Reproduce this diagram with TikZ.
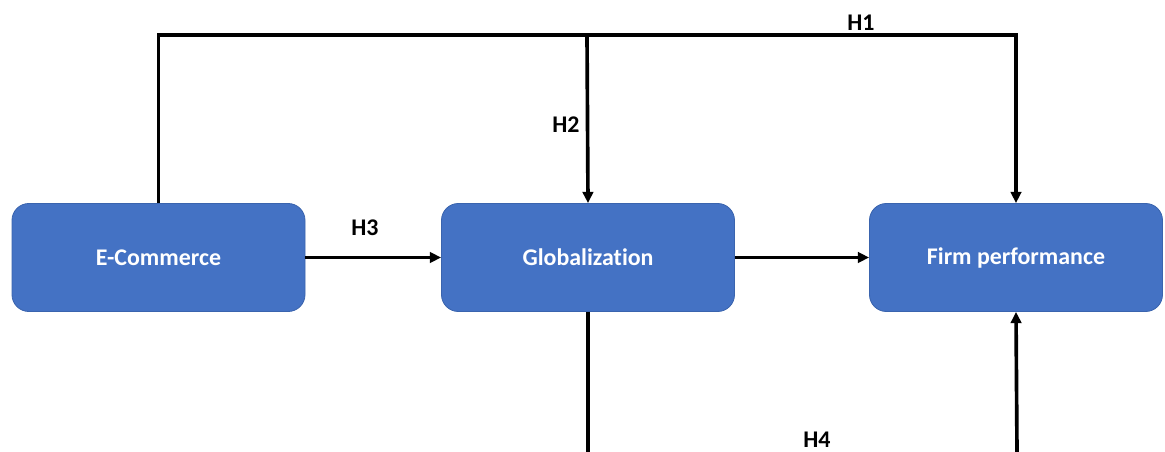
\documentclass[tikz,border=0pt]{standalone}
\usepackage{fontspec}
\setmainfont{Carlito}[RawFeature={-liga}]
\usetikzlibrary{arrows.meta}
\definecolor{boxblue}{HTML}{4472C4}
\definecolor{boxedge}{HTML}{3A64AE}
\begin{document}
\begin{tikzpicture}[x=0.025cm, y=-0.025cm,
  block/.style={draw=boxedge, line width=0.6pt, fill=boxblue, rounded corners=12pt,
    minimum width=293*0.025cm, minimum height=108*0.025cm, inner sep=0pt,
    text=white, font=\fontsize{17}{20}\selectfont\bfseries},
  hyp/.style={font=\fontsize{17}{20}\selectfont\bfseries, inner sep=0pt},
  link/.style={line width=2.6pt},
  >={Triangle[length=8pt, width=7.5pt]}]

\useasboundingbox (0,0) rectangle (1165,452);

\node[block] (ecom) at (158.5,257.5) {E-Commerce};
\node[block] (glob) at (588,257.5) {Globalization};
\node[block] (firm) at (1016,257.5) {Firm performance};

\coordinate (top) at (587,35);
\coordinate (globdown) at (588,452);
\coordinate (firmup) at (1017,452);

\node[hyp] (h1) at (861,23) {H1};
\node[hyp] (h2) at (566,125) {H2};
\node[hyp] (h3) at (365,228) {H3};
\node[hyp] (h4) at (817,440) {H4};

\draw[link,->] (ecom.north) |- (top) -| (firm.north);
\draw[link,->] (top) -- (glob.north);
\draw[link,->] (ecom.east) -- (glob.west);
\draw[link,->] (glob.east) -- (firm.west);
\draw[link] (glob.south) -- (globdown);
\draw[link,->] (firmup) -- (firm.south);
\end{tikzpicture}
\end{document}
